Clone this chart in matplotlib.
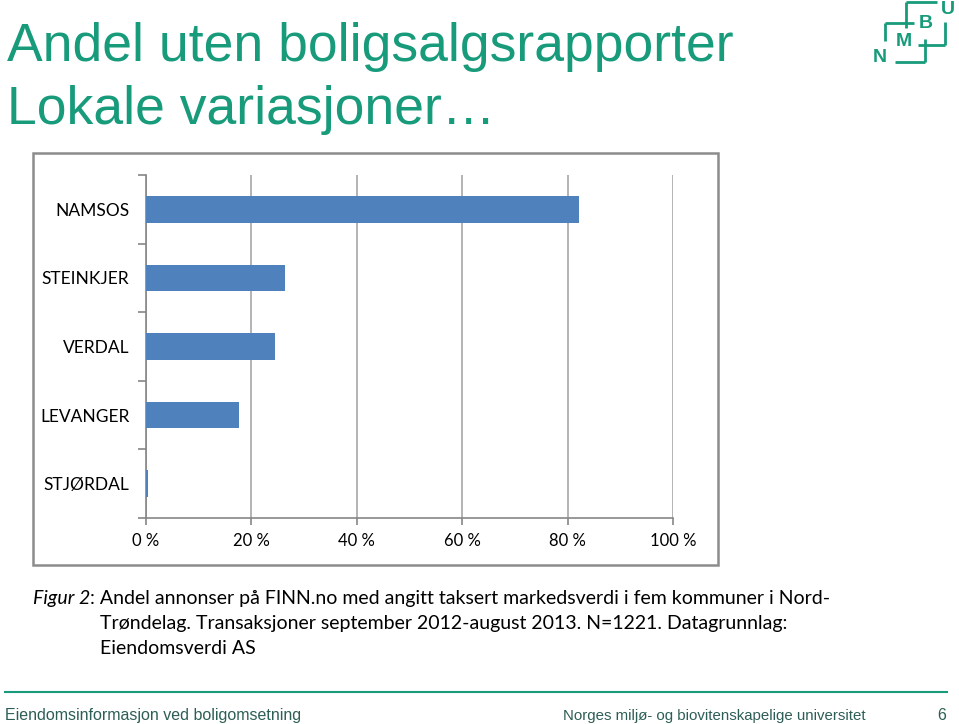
import matplotlib
matplotlib.use("Agg")
import matplotlib.pyplot as plt
from matplotlib.lines import Line2D
from matplotlib.patches import Rectangle
from matplotlib import font_manager

categories = ["NAMSOS", "STEINKJER", "VERDAL", "LEVANGER", "STJØRDAL"]
values = [82.2, 26.4, 24.5, 17.6, 0.4]
xticks = [0, 20, 40, 60, 80, 100]
xticklabels = ["0 %", "20 %", "40 %", "60 %", "80 %", "100 %"]

title1 = "Andel uten boligsalgsrapporter"
title2 = "Lokale variasjoner…"
caption_italic = "Figur 2"
caption_line1 = ": Andel annonser på FINN.no med angitt taksert markedsverdi i fem kommuner i Nord-"
caption_line2 = "Trøndelag. Transaksjoner september 2012-august 2013. N=1221. Datagrunnlag:"
caption_line3 = "Eiendomsverdi AS"
footer_left = "Eiendomsinformasjon ved boligomsetning"
footer_right = "Norges miljø- og biovitenskapelige universitet"
page_no = "6"

installed = {f.name for f in font_manager.fontManager.ttflist}
narrow = "Liberation Sans Narrow" if "Liberation Sans Narrow" in installed else "Liberation Sans"

TEAL = "#179b7b"
W, H = 959, 724
fig = plt.figure(figsize=(W / 100, H / 100), dpi=100)
fig.patch.set_facecolor("white")

# full-figure overlay in pixel coordinates
bg = fig.add_axes([0, 0, 1, 1])
bg.set_xlim(0, W)
bg.set_ylim(H, 0)
bg.axis("off")

# titles
bg.text(7, 61, title1, fontsize=38.5, color=TEAL, family="Liberation Sans", va="baseline", ha="left")
bg.text(7, 124, title2, fontsize=38.5, color=TEAL, family="Liberation Sans", va="baseline", ha="left")

# logo
logo_lines = [
    ((906, 937), (2, 2)),
    ((906, 906), (2, 28)),
    ((885, 914), (23, 23)),
    ((885, 885), (23, 41)),
    ((945, 945), (22, 45)),
    ((918, 945), (45, 45)),
    ((925, 925), (39, 62)),
    ((895, 925), (62, 62)),
]
for xs, ys in logo_lines:
    bg.add_line(Line2D(xs, ys, color=TEAL, lw=2.0, solid_capstyle="butt"))
for s, x, y in [("U", 948, 10), ("B", 926, 23), ("M", 904, 42), ("N", 880, 58)]:
    bg.text(x, y, s, fontsize=14, fontweight="bold", color=TEAL, family="Liberation Sans",
            ha="center", va="center")

# chart frame
bg.add_patch(Rectangle((33, 153), 685, 412, fill=False, edgecolor="#8c8c8c", lw=1.8))

# caption
cf = "Lato"
t1 = bg.text(33, 604, caption_italic, fontsize=14, style="italic", family=cf, va="baseline", ha="left")
bg.annotate(caption_line1, xy=(1, 0), xycoords=t1, va="bottom", ha="left", fontsize=14, family=cf)
bg.text(100, 629, caption_line2, fontsize=14, family=cf, va="baseline", ha="left")
bg.text(100, 654, caption_line3, fontsize=14, family=cf, va="baseline", ha="left")

# footer
bg.add_line(Line2D((5, 947), (692, 692), color=TEAL, lw=1.5))
fc = "#2d5e55"
bg.text(5, 720, footer_left, fontsize=11.5, family=narrow, color=fc, va="baseline", ha="left")
bg.text(866, 720, footer_right, fontsize=10.8, family=narrow, color=fc, va="baseline", ha="right")
bg.text(946, 720, page_no, fontsize=11.5, family=narrow, color=fc, va="baseline", ha="right")

# chart axes
left, right, top, bottom = 146, 673, 175, 518
ax = fig.add_axes([left / W, 1 - bottom / H, (right - left) / W, (bottom - top) / H])
ax.set_facecolor("none")
ypos = list(range(len(categories)))
ax.barh(ypos, values, height=0.39, color="#4f81bd", zorder=3)
ax.set_xlim(0, 100)
ax.set_ylim(len(categories) - 0.5, -0.5)
ax.set_xticks(xticks)
ax.set_xticklabels(xticklabels, family=cf, fontsize=12)
ax.set_yticks(ypos)
ax.set_yticklabels(categories, family=cf, fontsize=12.5)
ax.set_yticks([i - 0.5 for i in range(len(categories) + 1)], minor=True)
ax.tick_params(axis="y", which="major", length=0, pad=12)
ax.tick_params(axis="y", which="minor", length=6, color="#868686", width=1.2, direction="out")
ax.tick_params(axis="x", length=5, color="#868686", width=1.2, direction="out", pad=6)
ax.grid(axis="x", color="#b3b3b3", lw=1.4, zorder=0)
for s in ["top", "right"]:
    ax.spines[s].set_visible(False)
for s in ["left", "bottom"]:
    ax.spines[s].set_color("#868686")
    ax.spines[s].set_linewidth(1.2)

fig.savefig("out.png", dpi=100, facecolor="white")
